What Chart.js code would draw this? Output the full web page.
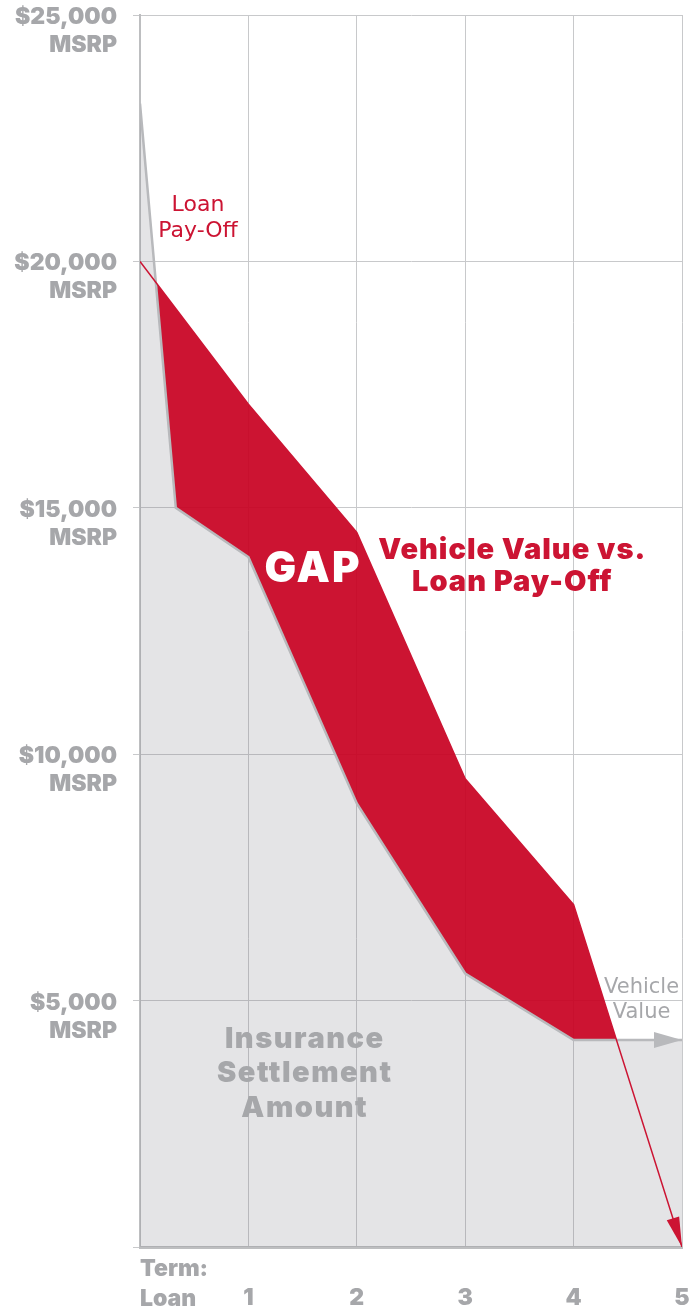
<!DOCTYPE html>
<html lang="en">
<head>
<meta charset="UTF-8">
<title>GAP - Vehicle Value vs. Loan Pay-Off</title>
<script src="https://cdn.jsdelivr.net/npm/chart.js"></script>
<style>
    html, body { margin: 0; padding: 0; background: #fff; }
    #wrap { width: 689px; height: 1307px; }
</style>
</head>
<body>
<div id="wrap"><canvas id="gapChart" width="689" height="1307"></canvas></div>

<script>
// loan term (years) and dollar values
const vehicleTerm = [0, 0.33, 1, 2, 3, 4, 5];
const vehicleValue = [23200, 15000, 14000, 9000, 5550, 4200, 4200];
const loanTerm = [0, 1, 2, 3, 4, 5];
const loanPayoff = [20000, 17100, 14500, 9500, 6950, 0];
const yTicks = [5000, 10000, 15000, 20000, 25000];
const xTicks = [1, 2, 3, 4, 5];

const RED = '#cc1433';
const GREY_TEXT = '#a6a7aa';
const HEAVY = 'Inter, "DejaVu Sans", sans-serif';
const PLAIN = '"DejaVu Sans", sans-serif';

// labels placed on the chart (data coordinates)
const notes = [
    { lines: ['Loan', 'Pay-Off'], x: 0.535, y: 20880, font: '22px ' + PLAIN, color: RED, lh: 26, sp: 0 },
    { lines: ['GAP'], x: 1.587, y: 13760, font: '900 42px ' + HEAVY, color: '#ffffff', lh: 42, sp: 2 },
    { lines: ['Vehicle Value vs.', 'Loan Pay-Off'], x: 3.43, y: 13820, font: '900 29px ' + HEAVY, color: RED, lh: 32, sp: 1 },
    { lines: ['Vehicle', 'Value'], x: 4.627, y: 5020, font: '21px ' + PLAIN, color: GREY_TEXT, lh: 25, sp: 0 },
    { lines: ['Insurance', 'Settlement', 'Amount'], x: 1.513, y: 3520, font: '900 29px ' + HEAVY, color: GREY_TEXT, lh: 34.5, sp: 1.5 }
];

const toPoints = (xs, ys) => xs.map((x, i) => ({ x: x, y: ys[i] }));

// arrow heads at the end of each line
const arrowPlugin = {
    id: 'arrows',
    afterDatasetsDraw(chart) {
        const ctx = chart.ctx;
        chart.data.datasets.forEach((ds, i) => {
            const pts = chart.getDatasetMeta(i).data;
            const a = pts[pts.length - 2], b = pts[pts.length - 1];
            const ang = Math.atan2(b.y - a.y, b.x - a.x);
            const len = ds.arrowLen, half = ds.arrowWidth / 2;
            ctx.save();
            ctx.translate(b.x, b.y);
            ctx.rotate(ang);
            ctx.beginPath();
            ctx.moveTo(0, 0);
            ctx.lineTo(-len, -half);
            ctx.lineTo(-len, half);
            ctx.closePath();
            ctx.fillStyle = ds.borderColor;
            ctx.fill();
            ctx.restore();
        });
    }
};

const notesPlugin = {
    id: 'notes',
    afterDraw(chart) {
        const ctx = chart.ctx;
        const xs = chart.scales.x, ys = chart.scales.y;
        ctx.save();
        ctx.textAlign = 'center';
        ctx.textBaseline = 'middle';
        notes.forEach(n => {
            ctx.font = n.font;
            ctx.fillStyle = n.color;
            ctx.letterSpacing = n.sp + 'px';
            const cx = xs.getPixelForValue(n.x) + n.sp / 2;
            const cy = ys.getPixelForValue(n.y);
            const top = cy - (n.lines.length - 1) * n.lh / 2;
            n.lines.forEach((t, k) => ctx.fillText(t, cx, top + k * n.lh));
        });
        // "Term: / Loan" under the first tick
        ctx.letterSpacing = '0px';
        ctx.font = '900 23px ' + HEAVY;
        ctx.fillStyle = GREY_TEXT;
        ctx.textAlign = 'left';
        const x0 = xs.getPixelForValue(0);
        ctx.fillText('Term:', x0, xs.top + 22);
        ctx.fillText('Loan', x0, xs.top + 52);
        ctx.restore();
    }
};

new Chart(document.getElementById('gapChart'), {
    type: 'line',
    data: {
        datasets: [
            {
                label: 'Vehicle Value',
                data: toPoints(vehicleTerm, vehicleValue),
                borderColor: '#b8b9bc',
                borderWidth: 2.5,
                backgroundColor: 'rgba(120,122,128,0.2)',
                fill: 'origin',
                pointRadius: 0,
                tension: 0,
                order: 1,
                arrowLen: 28,
                arrowWidth: 16
            },
            {
                label: 'Loan Pay-Off',
                data: toPoints(loanTerm, loanPayoff),
                borderColor: RED,
                borderWidth: 1.5,
                fill: { target: 0, above: 'rgba(200,0,33,0.92)', below: 'rgba(0,0,0,0)' },
                pointRadius: 0,
                tension: 0,
                order: 0,
                arrowLen: 30,
                arrowWidth: 13
            }
        ]
    },
    options: {
        responsive: false,
        animation: false,
        events: [],
        layout: { padding: { top: 15, right: 7, left: 0, bottom: 0 } },
        plugins: {
            legend: { display: false },
            tooltip: { enabled: false },
            filler: { drawTime: 'beforeDatasetsDraw' }
        },
        scales: {
            x: {
                type: 'linear',
                min: 0,
                max: 5,
                afterFit(scale) {
                    scale.height = 60;
                    scale.paddingLeft = 0;
                    scale.paddingRight = 0;
                },
                afterBuildTicks(scale) { scale.ticks = [0].concat(xTicks).map(v => ({ value: v })); },
                ticks: {
                    padding: 37,
                    color: GREY_TEXT,
                    font: { family: HEAVY, size: 23, weight: 900, lineHeight: 1.2 },
                    maxRotation: 0,
                    autoSkip: false,
                    callback: v => (v === 0 ? '' : String(v))
                },
                grid: { color: '#c8c9cb', lineWidth: 1, drawTicks: false },
                border: { color: '#bdbec0', width: 3 }
            },
            y: {
                min: 0,
                max: 25000,
                afterFit(scale) {
                    scale.width = 140;
                    scale.paddingTop = 0;
                    scale.paddingBottom = 0;
                },
                afterBuildTicks(scale) { scale.ticks = [0].concat(yTicks).map(v => ({ value: v })); },
                ticks: {
                    padding: 16,
                    labelOffset: 16,
                    color: GREY_TEXT,
                    font: { family: HEAVY, size: 23, weight: 900, lineHeight: 28 / 23 },
                    callback: v => (v === 0 ? '' : ['$' + v.toLocaleString('en-US'), 'MSRP'])
                },
                grid: { color: '#c8c9cb', lineWidth: 1, tickLength: 7 },
                border: { color: '#bdbec0', width: 2 }
            }
        }
    },
    plugins: [arrowPlugin, notesPlugin]
});
</script>
</body>
</html>
